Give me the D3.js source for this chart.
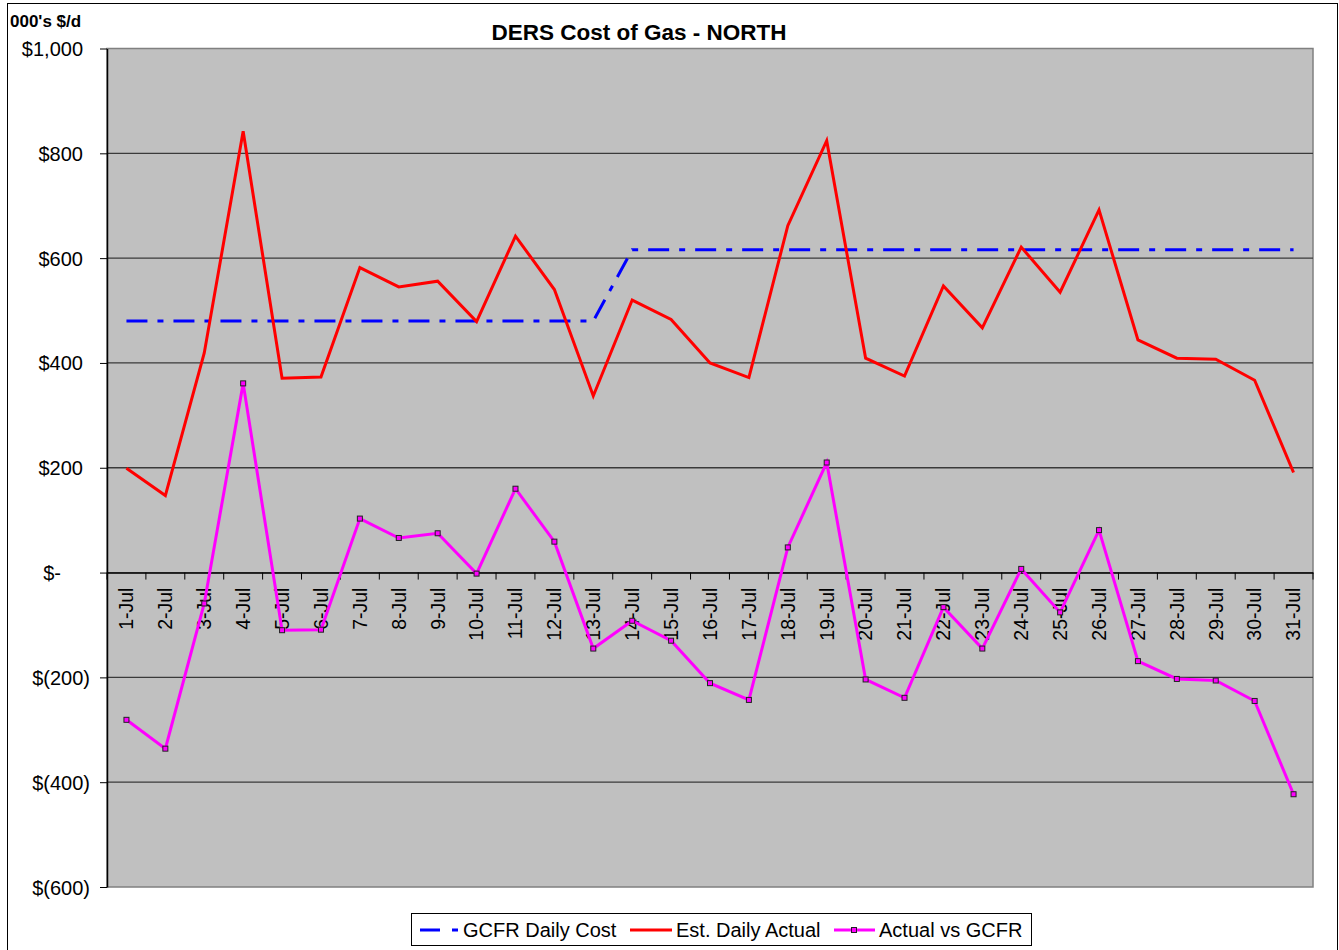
<!DOCTYPE html>
<html>
<head>
<meta charset="utf-8">
<script src="https://cdn.jsdelivr.net/npm/d3@7"></script>
<style>
body { margin: 0; background: #fff; }
text { font-family: Arial, "Liberation Sans", sans-serif; fill: #000; }
</style>
</head>
<body>
<div id="chart"></div>
<script>
//chart data
var days = ["1-Jul","2-Jul","3-Jul","4-Jul","5-Jul","6-Jul","7-Jul","8-Jul","9-Jul","10-Jul",
  "11-Jul","12-Jul","13-Jul","14-Jul","15-Jul","16-Jul","17-Jul","18-Jul","19-Jul","20-Jul",
  "21-Jul","22-Jul","23-Jul","24-Jul","25-Jul","26-Jul","27-Jul","28-Jul","29-Jul","30-Jul","31-Jul"];
var gcfrDailyCost = [480,480,480,480,480,480,480,480,480,480,480,480,480,
  616,616,616,616,616,616,616,616,616,616,616,616,616,616,616,616,616,616];
var estDailyActual = [199,147,419,842,371,373,582,545,556,479,642,540,337,520,483,400,372,662,824,409,
  375,547,467,621,535,692,444,409,407,367,191];
var actualVsGcfr = [-281,-336,-59,361,-110,-109,103,66,75,-2,160,59,-145,-92,-130,-211,-243,48,210,-204,
  -239,-66,-145,7,-76,81,-169,-203,-206,-245,-423];
var yTicks = [1000,800,600,400,200,0,-200,-400,-600];
var seriesNames = ["GCFR Daily Cost","Est. Daily Actual","Actual vs GCFR"];

//dimensions (plot area edges)
var width = 1339, height = 950;
var plotLeft = 107, plotRight = 1313, plotTop = 48.5, plotBottom = 887;

var svg = d3.select("#chart")
  .append("svg")
  .attr("width", width)
  .attr("height", height);

//outer chart border
svg.append("rect")
  .attr("x", 7.5).attr("y", 3.5)
  .attr("width", 1330).attr("height", 1000)
  .attr("fill", "#fff")
  .attr("stroke", "#000");

//scales
var x = d3.scaleBand().domain(days).range([plotLeft, plotRight]);
var cx = function(d) { return x(d) + x.bandwidth() / 2; };
var y = d3.scaleLinear().domain([-600, 1000]).range([plotBottom, plotTop]);

//plot area
svg.append("rect")
  .attr("x", plotLeft).attr("y", y(1000))
  .attr("width", plotRight - plotLeft).attr("height", y(-600) - y(1000))
  .attr("fill", "#c0c0c0")
  .attr("stroke", "#808080")
  .attr("stroke-width", 1.5);

//gridlines
svg.selectAll(".grid")
  .data(yTicks.filter(function(v) { return v < 1000 && v > -600; }))
  .enter()
  .append("line")
  .attr("x1", plotLeft).attr("x2", plotRight)
  .attr("y1", function(d) { return y(d); })
  .attr("y2", function(d) { return y(d); })
  .attr("stroke", "#3a3a3a")
  .attr("stroke-width", 1.3);

//y axis
var money = function(v) {
  if (v === 0) return "$-";
  if (v < 0) return "$(" + d3.format(",")(-v) + ")";
  return "$" + d3.format(",")(v);
};
var yAxis = svg.append("g")
  .attr("transform", "translate(" + plotLeft + ",0)")
  .call(d3.axisLeft(y).tickValues(yTicks).tickSize(7).tickSizeOuter(0).tickFormat(money));
yAxis.select(".domain").attr("stroke", "#000").attr("stroke-width", 1.5);
yAxis.selectAll(".tick line").attr("stroke", "#000");
yAxis.selectAll(".tick text")
  .style("font-size", "20px")
  .attr("x", function(d) { return d > 0 ? -24 : (d < 0 ? -17 : -46); })
  .attr("dy", "0.35em");

//x axis along zero
var y0 = y(0);
var xAxis = svg.append("g")
  .attr("transform", "translate(0," + y0 + ")")
  .call(d3.axisBottom(x).tickSize(0));
xAxis.select(".domain").attr("stroke", "#000").attr("stroke-width", 1.3);
xAxis.selectAll(".tick text")
  .style("font-size", "19.5px")
  .attr("transform", "rotate(-90)")
  .attr("text-anchor", "end")
  .attr("x", -15)
  .attr("y", 0)
  .attr("dy", "0.35em");

//tick marks at the category boundaries
svg.selectAll(".xtick")
  .data(d3.range(days.length + 1))
  .enter()
  .append("line")
  .attr("x1", function(i) { return plotLeft + i * x.step(); })
  .attr("x2", function(i) { return plotLeft + i * x.step(); })
  .attr("y1", y0).attr("y2", y0 + 7)
  .attr("stroke", "#000");

//lines
var line = function(values) {
  return d3.line()
    .x(function(d, i) { return cx(days[i]); })
    .y(function(d) { return y(d); })(values);
};

svg.append("path")
  .attr("d", line(gcfrDailyCost))
  .attr("fill", "none")
  .attr("stroke", "#0000ff")
  .attr("stroke-width", 3)
  .attr("stroke-dasharray", "21,10,6,10");

svg.append("path")
  .attr("d", line(estDailyActual))
  .attr("fill", "none")
  .attr("stroke", "#ff0000")
  .attr("stroke-width", 3);

svg.append("path")
  .attr("d", line(actualVsGcfr))
  .attr("fill", "none")
  .attr("stroke", "#ff00ff")
  .attr("stroke-width", 3);

//markers
svg.selectAll(".marker")
  .data(actualVsGcfr)
  .enter()
  .append("rect")
  .attr("x", function(d, i) { return cx(days[i]) - 2.5; })
  .attr("y", function(d) { return y(d) - 2.5; })
  .attr("width", 5).attr("height", 5)
  .attr("fill", "#ff00ff")
  .attr("stroke", "#222")
  .attr("stroke-width", 1);

//title and unit label
svg.append("text")
  .attr("x", 639).attr("y", 40)
  .attr("text-anchor", "middle")
  .style("font-size", "22.5px")
  .style("font-weight", "bold")
  .text("DERS Cost of Gas - NORTH");

svg.append("text")
  .attr("x", 10).attr("y", 27)
  .style("font-size", "17px")
  .style("font-weight", "bold")
  .text("000's $/d");

//legend
var legend = svg.append("g");
legend.append("rect")
  .attr("x", 411.5).attr("y", 913.5)
  .attr("width", 620).attr("height", 32)
  .attr("fill", "#fff")
  .attr("stroke", "#000");

var ly = 930;
legend.append("line")
  .attr("x1", 420).attr("x2", 458).attr("y1", ly).attr("y2", ly)
  .attr("stroke", "#0000ff").attr("stroke-width", 3)
  .attr("stroke-dasharray", "20,12,6,10");
legend.append("line")
  .attr("x1", 630).attr("x2", 672).attr("y1", ly).attr("y2", ly)
  .attr("stroke", "#ff0000").attr("stroke-width", 3);
legend.append("line")
  .attr("x1", 834).attr("x2", 875).attr("y1", ly).attr("y2", ly)
  .attr("stroke", "#ff00ff").attr("stroke-width", 3);
legend.append("rect")
  .attr("x", 851.5).attr("y", ly - 2.5)
  .attr("width", 5).attr("height", 5)
  .attr("fill", "#ff00ff").attr("stroke", "#222");

var legendX = [463, 676, 879];
legend.selectAll(".ltext")
  .data(seriesNames)
  .enter()
  .append("text")
  .attr("x", function(d, i) { return legendX[i]; })
  .attr("y", ly + 7)
  .style("font-size", "20px")
  .text(function(d) { return d; });
</script>
</body>
</html>
